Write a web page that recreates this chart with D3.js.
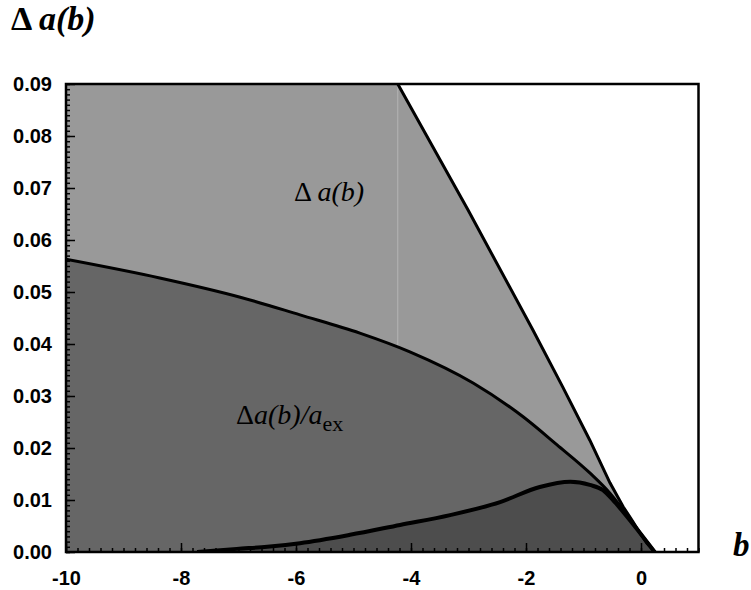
<!DOCTYPE html>
<html>
<head>
<meta charset="utf-8">
<script src="https://cdn.jsdelivr.net/npm/d3@7"></script>
<style>
  body { margin: 0; background: #fff; }
  svg { display: block; }
  .tick text { font-family: "Liberation Sans", Arial, sans-serif; font-weight: bold; font-size: 20px; fill: #000; }
  .lbl { font-family: "Liberation Serif", "Times New Roman", serif; fill: #000; }
</style>
</head>
<body>
<svg id="chart" width="751" height="590"></svg>
<script>
// outer line: Δa(b)
const outerB = [-4.23, -3.01, -1.88, -1.36, -0.89, -0.54, -0.31, -0.15, -0.02, 0.1, 0.24];
const outerA = [0.09, 0.0658, 0.0427, 0.0317, 0.0215, 0.0133, 0.0087, 0.006, 0.0037, 0.0017, 0];

// middle curve: Δa(b)/a_ex
const midB = [-10, -8.37, -6.97, -5.93, -4.89, -4.02, -2.92, -2.05, -1.46, -0.89, -0.54, -0.31, -0.02, 0.24];
const midA = [0.0563, 0.0527, 0.049, 0.0456, 0.0421, 0.0385, 0.0325, 0.026, 0.0206, 0.0152, 0.0113, 0.0081, 0.0037, 0];

// lower curve
const lowB = [-7.72, -7.03, -6.5, -5.93, -5.06, -4.19, -3.32, -2.45, -1.76, -1.23, -0.89, -0.66, -0.49, -0.31, -0.02, 0.24];
const lowA = [0, 0.0006, 0.001, 0.0017, 0.0033, 0.0052, 0.0071, 0.0096, 0.0125, 0.0135, 0.0129, 0.0119, 0.01, 0.0077, 0.0037, 0];

const xTicks = [-10, -8, -6, -4, -2, 0];
const yTicks = [0, 0.01, 0.02, 0.03, 0.04, 0.05, 0.06, 0.07, 0.08, 0.09];

const svg = d3.select("#chart");
const x = d3.scaleLinear().domain([-10, 1]).range([66, 698.5]);
const y = d3.scaleLinear().domain([0, 0.09]).range([552, 84]);

const zip = (bs, as) => bs.map((b, i) => [b, as[i]]);
const outer = zip(outerB, outerA);
const mid = zip(midB, midA);
const low = zip(lowB, lowA);

svg.append("defs").append("clipPath").attr("id", "clip")
  .append("rect").attr("x", 66).attr("y", 84).attr("width", 698.5 - 66).attr("height", 552 - 84);

const plot = svg.append("g").attr("clip-path", "url(#clip)");

const area = d3.area().x(d => x(d[0])).y0(y(0)).y1(d => y(d[1])).curve(d3.curveMonotoneX);
const line = d3.line().x(d => x(d[0])).y(d => y(d[1])).curve(d3.curveMonotoneX);
const areaLin = d3.area().x(d => x(d[0])).y0(y(0)).y1(d => y(d[1]));
const lineLin = d3.line().x(d => x(d[0])).y(d => y(d[1]));

// filled regions, light to dark
plot.append("path").datum([[-10, 0.09], ...outer]).attr("d", areaLin).attr("fill", "#999999");
plot.append("path").datum(mid).attr("d", area).attr("fill", "#666666");
plot.append("path").datum(low).attr("d", area).attr("fill", "#4d4d4d");

// faint seam in the light region
const seamA = d3.scaleLinear().domain(midB).range(midA)(outerB[0]);
plot.append("line")
  .attr("x1", x(outerB[0])).attr("x2", x(outerB[0]))
  .attr("y1", y(0.09)).attr("y2", y(seamA))
  .attr("stroke", "#b4b4b4").attr("stroke-width", 1);

plot.append("path").datum(outer).attr("d", lineLin).attr("fill", "none").attr("stroke", "#000").attr("stroke-width", 3);
plot.append("path").datum(mid).attr("d", line).attr("fill", "none").attr("stroke", "#000").attr("stroke-width", 3);
plot.append("path").datum(low).attr("d", line).attr("fill", "none").attr("stroke", "#000").attr("stroke-width", 4);

// axes, ticks pointing inward
const yMinor = d3.range(0, 0.0905, 0.001);
const xMinor = d3.range(-10, 1.01, 0.2);
const fmt = d => String(d);

svg.append("g").attr("transform", "translate(66,0)")
  .call(d3.axisLeft(y).tickValues(yMinor).tickSize(-4).tickFormat(""))
  .call(g => g.select(".domain").remove());
svg.append("g").attr("transform", "translate(66,0)")
  .call(d3.axisLeft(y).tickValues(yTicks).tickSize(-9).tickPadding(14).tickFormat(d3.format(".2f")))
  .call(g => g.select(".domain").remove());

svg.append("g").attr("transform", "translate(0,552)")
  .call(d3.axisBottom(x).tickValues(xMinor).tickSize(-4).tickFormat(""))
  .call(g => g.select(".domain").remove());
svg.append("g").attr("transform", "translate(0,552)")
  .call(d3.axisBottom(x).tickValues(xTicks).tickSize(-9).tickPadding(19).tickFormat(fmt))
  .call(g => g.select(".domain").remove());

svg.selectAll(".tick line").attr("stroke", "#000").attr("stroke-width", 1.5);

svg.append("rect")
  .attr("x", 66).attr("y", 84).attr("width", 698.5 - 66).attr("height", 552 - 84)
  .attr("fill", "none").attr("stroke", "#000").attr("stroke-width", 2.5);

// labels
const t1 = svg.append("text").attr("class", "lbl").attr("x", 11).attr("y", 30)
  .attr("font-size", 34).attr("font-weight", "bold");
t1.append("tspan").text("Δ ");
t1.append("tspan").attr("font-style", "italic").text("a(b)");

svg.append("text").attr("class", "lbl").attr("x", 733).attr("y", 556)
  .attr("font-size", 33).attr("font-weight", "bold").attr("font-style", "italic").text("b");

const t2 = svg.append("text").attr("class", "lbl").attr("x", 294).attr("y", 201).attr("font-size", 28);
t2.append("tspan").text("Δ ");
t2.append("tspan").attr("font-style", "italic").text("a(b)");

const t3 = svg.append("text").attr("class", "lbl").attr("x", 236).attr("y", 424).attr("font-size", 28);
t3.append("tspan").text("Δ");
t3.append("tspan").attr("font-style", "italic").text("a(b)/a");
t3.append("tspan").attr("dy", 7).attr("font-size", 22).text("ex");
</script>
</body>
</html>
